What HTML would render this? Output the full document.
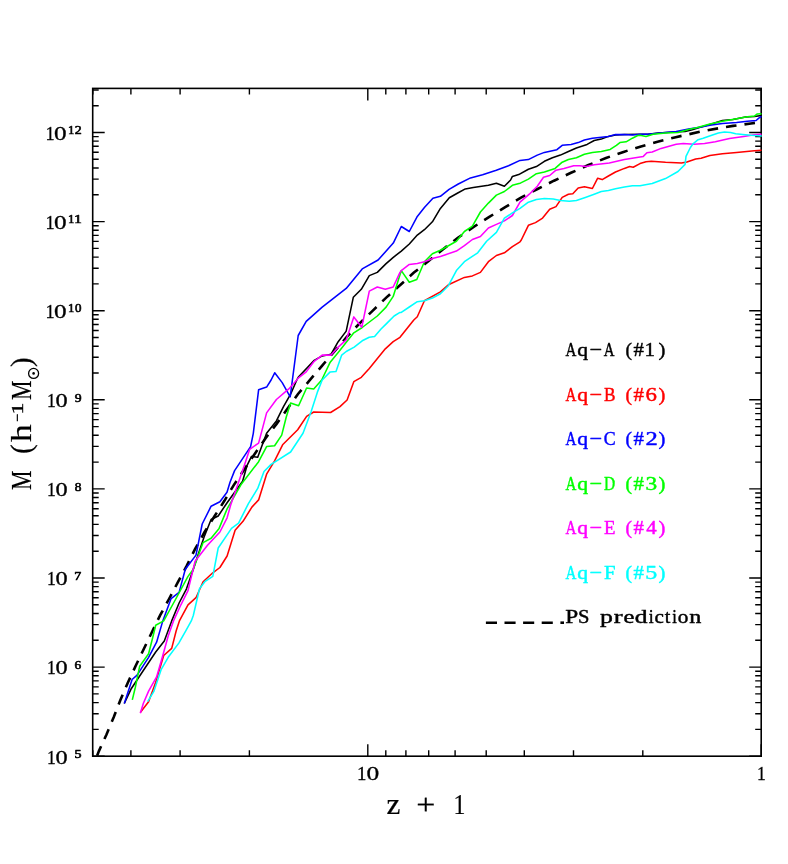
<!DOCTYPE html>
<html><head><meta charset="utf-8"><title>Mass accretion history</title>
<style>html,body{margin:0;padding:0;background:#fff}svg{display:block;will-change:transform}</style></head>
<body>
<svg width="788" height="864" viewBox="0 0 788 864">
<rect width="788" height="864" fill="#fff"/>
<rect x="92.7" y="88.4" width="668.5" height="667.8" fill="none" stroke="#000" stroke-width="1.6"/>
<path d="M92.7 756.2h12 M761.2 756.2h-12 M92.7 729.4h6 M761.2 729.4h-6 M92.7 713.7h6 M761.2 713.7h-6 M92.7 702.6h6 M761.2 702.6h-6 M92.7 693.9h6 M761.2 693.9h-6 M92.7 686.9h6 M761.2 686.9h-6 M92.7 680.9h6 M761.2 680.9h-6 M92.7 675.7h6 M761.2 675.7h-6 M92.7 671.2h6 M761.2 671.2h-6 M92.7 667.1h12 M761.2 667.1h-12 M92.7 640.3h6 M761.2 640.3h-6 M92.7 624.6h6 M761.2 624.6h-6 M92.7 613.5h6 M761.2 613.5h-6 M92.7 604.8h6 M761.2 604.8h-6 M92.7 597.8h6 M761.2 597.8h-6 M92.7 591.8h6 M761.2 591.8h-6 M92.7 586.6h6 M761.2 586.6h-6 M92.7 582.1h6 M761.2 582.1h-6 M92.7 578.0h12 M761.2 578.0h-12 M92.7 551.2h6 M761.2 551.2h-6 M92.7 535.5h6 M761.2 535.5h-6 M92.7 524.4h6 M761.2 524.4h-6 M92.7 515.7h6 M761.2 515.7h-6 M92.7 508.7h6 M761.2 508.7h-6 M92.7 502.7h6 M761.2 502.7h-6 M92.7 497.5h6 M761.2 497.5h-6 M92.7 493.0h6 M761.2 493.0h-6 M92.7 488.9h12 M761.2 488.9h-12 M92.7 462.1h6 M761.2 462.1h-6 M92.7 446.4h6 M761.2 446.4h-6 M92.7 435.3h6 M761.2 435.3h-6 M92.7 426.6h6 M761.2 426.6h-6 M92.7 419.6h6 M761.2 419.6h-6 M92.7 413.6h6 M761.2 413.6h-6 M92.7 408.4h6 M761.2 408.4h-6 M92.7 403.9h6 M761.2 403.9h-6 M92.7 399.8h12 M761.2 399.8h-12 M92.7 373.0h6 M761.2 373.0h-6 M92.7 357.3h6 M761.2 357.3h-6 M92.7 346.2h6 M761.2 346.2h-6 M92.7 337.5h6 M761.2 337.5h-6 M92.7 330.5h6 M761.2 330.5h-6 M92.7 324.5h6 M761.2 324.5h-6 M92.7 319.3h6 M761.2 319.3h-6 M92.7 314.8h6 M761.2 314.8h-6 M92.7 310.7h12 M761.2 310.7h-12 M92.7 283.9h6 M761.2 283.9h-6 M92.7 268.2h6 M761.2 268.2h-6 M92.7 257.1h6 M761.2 257.1h-6 M92.7 248.4h6 M761.2 248.4h-6 M92.7 241.4h6 M761.2 241.4h-6 M92.7 235.4h6 M761.2 235.4h-6 M92.7 230.2h6 M761.2 230.2h-6 M92.7 225.7h6 M761.2 225.7h-6 M92.7 221.6h12 M761.2 221.6h-12 M92.7 194.8h6 M761.2 194.8h-6 M92.7 179.1h6 M761.2 179.1h-6 M92.7 168.0h6 M761.2 168.0h-6 M92.7 159.3h6 M761.2 159.3h-6 M92.7 152.3h6 M761.2 152.3h-6 M92.7 146.3h6 M761.2 146.3h-6 M92.7 141.1h6 M761.2 141.1h-6 M92.7 136.6h6 M761.2 136.6h-6 M92.7 132.5h12 M761.2 132.5h-12 M92.7 105.7h6 M761.2 105.7h-6 M92.7 90.0h6 M761.2 90.0h-6 M761.2 756.2v-12 M761.2 88.4v12 M642.8 756.2v-6 M642.8 88.4v6 M573.5 756.2v-6 M573.5 88.4v6 M524.3 756.2v-6 M524.3 88.4v6 M486.2 756.2v-6 M486.2 88.4v6 M455.1 756.2v-6 M455.1 88.4v6 M428.7 756.2v-6 M428.7 88.4v6 M405.9 756.2v-6 M405.9 88.4v6 M385.8 756.2v-6 M385.8 88.4v6 M367.8 756.2v-12 M367.8 88.4v12 M249.4 756.2v-6 M249.4 88.4v6 M180.1 756.2v-6 M180.1 88.4v6 M130.9 756.2v-6 M130.9 88.4v6 M92.8 756.2v-6 M92.8 88.4v6" stroke="#000" stroke-width="1.4" fill="none"/>
<polyline fill="none" stroke="#000" stroke-width="2.6" stroke-dasharray="10.6 8.05" stroke-dashoffset="0.3" points="97.1,755.8 98.9,751.1 106.4,734.7 113.7,717.3 120.3,700.2 127.8,682.8 135.7,665.8 148.0,640.2 160.2,615.2 169.0,599.0 177.9,582.2 186.8,565.7 195.0,549.2 204.6,532.0 214.8,515.8 224.4,500.8 233.6,485.4 244.4,469.2 255.2,453.2 265.4,438.4 276.4,424.1 298.0,394.0 310.2,379.7 322.4,365.3 346.6,337.2 359.6,323.3 372.8,310.6 386.5,297.4 413.9,272.6 428.6,260.9 443.1,249.2 457.9,237.8 473.3,227.1 489.3,216.9 505.2,207.1 521.0,197.6 537.5,189.0 554.0,180.7 571.0,172.8 588.5,165.0 606.0,158.0 623.5,151.9 641.0,146.4 658.5,141.4 675.7,137.2 701.0,131.5 719.0,128.2 733.0,125.9 750.9,123.5 757.0,122.6"/>
<polyline fill="none" stroke="#000" stroke-width="1.55" stroke-linejoin="round" points="124.3,703.5 130.9,689.3 141.5,673.3 155.7,652.0 164.3,641.0 171.7,620.9 179.1,603.0 186.5,588.8 193.3,569.3 198.6,553.3 204.0,537.3 211.1,519.5 218.2,516.0 227.1,502.7 242.6,481.3 247.1,465.3 251.5,456.4 257.7,457.3 261.3,447.5 266.6,433.3 276.4,420.9 283.5,406.6 290.6,394.2 296.8,380.0 298.2,377.3 314.2,360.4 322.2,355.9 331.1,354.2 338.2,341.7 346.2,331.1 353.3,297.3 361.3,289.3 369.3,275.6 377.3,272.4 386.1,263.6 393.3,257.3 401.3,251.1 409.3,244.0 417.3,235.1 424.4,229.7 432.4,221.8 440.4,208.4 449.3,197.8 457.3,193.3 465.3,188.9 473.3,187.5 488.4,185.3 496.4,183.2 504.4,186.2 510.6,180.0 512.4,176.4 518.7,174.6 528.4,169.3 536.4,166.6 544.4,161.3 552.4,157.7 560.4,155.1 568.4,151.5 576.4,148.0 587.1,144.4 594.2,140.5 601.3,139.1 608.4,136.4 615.5,135.0 624.4,134.6 640.0,134.3 647.8,134.2 658.4,132.9 674.4,132.1 685.1,131.5 692.2,129.7 701.1,127.1 709.9,124.4 722.4,120.5 733.0,119.4 745.5,117.0 754.4,116.4 761.5,115.5"/>
<polyline fill="none" stroke="#f00" stroke-width="1.55" stroke-linejoin="round" points="140.3,712.4 148.6,701.7 155.7,682.2 163.7,655.5 171.7,648.4 176.2,630.7 179.4,620.9 188.0,604.8 196.0,597.7 203.1,581.7 212.8,572.8 219.9,567.5 227.1,556.0 235.1,530.2 243.0,521.3 251.9,507.1 258.6,499.9 266.6,474.2 274.6,460.8 282.6,444.8 297.7,429.7 306.6,416.4 313.7,412.0 330.6,412.5 340.0,406.6 347.1,400.0 353.8,381.7 361.3,377.3 369.3,368.4 385.3,348.8 393.2,341.7 400.0,337.3 413.8,320.0 417.3,316.8 424.4,300.8 440.4,291.9 448.4,284.8 464.4,277.4 472.4,275.9 480.4,272.4 488.4,261.7 496.4,255.5 504.4,252.8 512.4,246.6 520.0,241.8 521.3,240.0 528.4,225.3 535.5,222.6 542.6,218.1 549.7,209.3 556.0,206.6 562.2,197.4 568.4,194.2 572.8,193.8 578.2,187.9 584.4,186.7 592.4,188.5 597.7,178.2 602.2,179.6 608.4,176.0 615.5,172.0 624.4,168.4 629.7,166.6 633.2,167.2 640.0,163.6 646.0,161.7 651.3,161.2 665.5,162.3 681.5,163.0 686.9,162.1 695.7,159.1 701.1,158.2 709.9,155.5 722.4,153.7 736.6,152.5 754.4,150.7 761.5,150.2"/>
<polyline fill="none" stroke="#00f" stroke-width="1.55" stroke-linejoin="round" points="124.3,703.5 132.1,679.5 137.1,675.1 148.6,657.3 156.6,642.2 162.8,620.9 171.1,598.6 179.1,592.4 185.3,569.3 196.0,555.1 202.2,524.0 211.1,506.2 219.9,501.8 227.0,492.2 230.1,482.0 234.6,470.6 250.6,446.6 253.3,433.3 258.6,389.8 266.6,387.1 271.1,380.0 274.7,372.8 282.2,382.6 290.2,396.8 298.2,335.5 306.2,321.3 322.2,307.1 338.2,294.6 346.2,288.4 362.2,268.9 378.1,260.0 393.3,243.1 401.3,226.5 409.3,231.5 417.3,216.4 424.4,207.5 432.9,198.3 440.4,196.3 449.1,189.3 458.3,184.0 470.5,177.9 482.6,174.8 496.3,170.3 508.5,165.7 520.0,160.4 528.3,159.6 537.3,155.1 544.4,152.4 556.9,149.7 562.2,145.3 571.1,144.4 578.2,142.6 584.4,140.0 592.4,138.2 608.4,136.4 615.5,134.6 624.4,134.6 632.4,135.0 640.0,134.3 647.8,134.2 665.5,132.4 676.2,131.5 688.6,128.9 701.1,127.1 709.9,125.3 722.4,123.5 736.6,122.6 747.3,121.2 756.1,120.5 758.8,118.2 761.5,116.4"/>
<polyline fill="none" stroke="#0f0" stroke-width="1.55" stroke-linejoin="round" points="132.3,699.9 135.3,687.5 139.7,666.2 148.6,653.8 153.1,636.0 155.7,625.3 163.7,620.9 175.5,599.5 188.0,576.4 193.3,569.3 203.1,542.6 211.1,538.2 219.1,528.4 227.1,508.9 240.9,484.8 258.6,461.7 266.6,446.6 274.6,445.7 281.7,435.1 286.2,417.3 290.6,403.1 298.6,405.8 306.6,388.0 313.7,388.9 321.7,380.0 330.2,362.2 338.2,352.4 353.8,332.8 362.2,327.5 377.3,316.0 386.1,307.1 393.2,296.4 401.3,270.6 409.3,282.2 416.8,279.5 424.4,261.7 432.4,253.7 440.4,250.2 448.4,245.7 456.4,241.3 464.4,231.5 472.4,226.2 480.4,212.0 488.4,203.1 496.4,195.1 504.4,191.5 512.4,185.3 520.0,183.2 521.3,182.6 528.4,179.1 536.4,173.7 544.4,172.0 555.1,168.4 562.2,162.2 568.4,159.5 576.4,157.7 584.4,154.2 592.4,152.4 601.3,151.5 610.2,149.4 616.4,145.3 619.9,142.6 626.1,141.8 632.4,138.2 637.7,135.5 640.0,135.2 646.0,136.5 653.1,134.2 665.5,132.9 678.0,132.4 688.6,129.4 697.5,127.6 709.9,124.1 722.4,121.2 736.6,118.7 747.3,116.8 754.4,116.1 757.0,114.1 761.5,113.8"/>
<polyline fill="none" stroke="#f0f" stroke-width="1.55" stroke-linejoin="round" points="140.3,713.3 143.3,703.5 148.6,691.1 156.6,676.9 162.8,655.5 168.2,636.0 173.5,620.9 180.9,604.8 188.0,590.6 195.1,561.3 207.5,545.3 219.9,532.0 227.1,517.8 230.6,505.3 244.4,465.3 249.7,449.3 258.6,443.1 266.6,412.9 276.4,399.5 288.8,388.9 296.8,380.0 298.2,378.1 306.2,371.9 314.2,361.3 322.2,355.1 331.1,355.1 338.2,347.1 346.2,339.9 353.8,316.9 361.8,327.2 369.3,291.1 377.3,287.0 385.3,289.3 393.2,287.0 400.0,272.4 401.3,270.6 409.3,264.4 417.3,263.5 424.4,261.7 433.3,258.2 440.4,256.4 456.4,251.1 464.4,245.7 472.4,239.5 480.4,236.5 488.4,228.0 496.4,224.4 504.4,220.9 512.4,215.5 520.0,202.2 529.3,194.2 537.3,186.2 543.5,177.3 549.7,175.5 556.0,170.2 564.0,168.4 573.7,165.7 579.9,165.7 586.2,166.6 594.2,164.8 609.3,163.1 624.4,159.5 640.0,156.9 643.3,156.4 646.9,152.8 652.2,152.0 661.1,148.4 676.2,144.3 683.3,143.6 694.0,144.3 704.6,143.6 715.3,141.8 729.5,138.6 743.7,136.5 754.4,134.7 761.5,134.2"/>
<polyline fill="none" stroke="#0ff" stroke-width="1.55" stroke-linejoin="round" points="147.7,701.7 154.0,691.1 161.1,669.7 168.2,657.3 178.8,643.1 185.9,630.7 191.3,620.9 193.3,615.5 199.5,588.8 204.8,581.7 212.8,576.4 218.2,548.0 231.5,528.4 238.6,523.1 248.4,503.6 257.7,488.4 264.0,471.5 271.1,464.4 290.6,452.0 303.0,433.3 311.0,412.0 317.3,392.4 322.2,380.0 330.2,371.9 336.0,371.6 341.7,355.1 346.2,351.5 354.2,347.1 362.2,340.8 369.3,337.3 374.6,336.4 380.8,329.3 387.0,323.1 394.1,316.0 400.0,312.4 401.3,312.4 409.3,307.0 417.3,301.7 424.4,300.8 432.4,298.1 440.4,293.7 448.4,285.7 456.4,270.6 464.4,261.7 477.7,252.8 486.6,241.3 496.4,232.4 504.4,218.2 512.4,212.9 520.0,208.4 528.4,202.2 536.4,199.5 544.4,198.6 553.3,199.1 560.4,200.4 569.3,201.3 576.4,200.4 585.3,197.4 594.2,194.2 601.3,191.5 608.4,190.6 615.5,188.8 624.4,187.1 632.4,185.8 640.0,185.8 652.2,183.6 665.5,178.6 678.0,171.5 685.1,164.4 686.0,156.4 690.4,147.5 693.0,143.8 698.1,139.7 703.2,138.2 710.3,135.7 718.4,133.1 724.5,132.1 730.6,132.4 735.7,133.7 742.8,134.4 750.9,135.2 761.8,135.9"/>
<path d="M485.9 622.7H556" stroke="#000" stroke-width="2.6" stroke-dasharray="11.1 7.5" fill="none"/>
<rect x="560.4" y="621.4" width="3.6" height="2.6" fill="#000"/>
<g font-family="'Liberation Serif', serif" stroke-linejoin="round">
<g font-size="19.8" fill="#000" stroke="#000" stroke-width="0.30"><text transform="matrix(0.884 0 0 1 47.05 763.5)">1</text><text transform="matrix(1.228 0 0 1 55.42 763.5)">0</text></g>
<g font-size="12.3" fill="#000" stroke="#000" stroke-width="0.60"><text transform="matrix(1.142 0 0 1 74.40 757.9)">5</text></g>
<g font-size="19.8" fill="#000" stroke="#000" stroke-width="0.30"><text transform="matrix(0.884 0 0 1 47.05 674.4)">1</text><text transform="matrix(1.228 0 0 1 55.42 674.4)">0</text></g>
<g font-size="12.3" fill="#000" stroke="#000" stroke-width="0.60"><text transform="matrix(1.090 0 0 1 74.56 668.8)">6</text></g>
<g font-size="19.8" fill="#000" stroke="#000" stroke-width="0.30"><text transform="matrix(0.884 0 0 1 47.05 585.3)">1</text><text transform="matrix(1.228 0 0 1 55.42 585.3)">0</text></g>
<g font-size="12.3" fill="#000" stroke="#000" stroke-width="0.60"><text transform="matrix(1.142 0 0 1 74.26 579.7)">7</text></g>
<g font-size="19.8" fill="#000" stroke="#000" stroke-width="0.30"><text transform="matrix(0.884 0 0 1 47.05 496.2)">1</text><text transform="matrix(1.228 0 0 1 55.42 496.2)">0</text></g>
<g font-size="12.3" fill="#000" stroke="#000" stroke-width="0.60"><text transform="matrix(1.090 0 0 1 74.70 490.6)">8</text></g>
<g font-size="19.8" fill="#000" stroke="#000" stroke-width="0.30"><text transform="matrix(0.884 0 0 1 47.05 407.1)">1</text><text transform="matrix(1.228 0 0 1 55.42 407.1)">0</text></g>
<g font-size="12.3" fill="#000" stroke="#000" stroke-width="0.60"><text transform="matrix(1.116 0 0 1 74.69 401.5)">9</text></g>
<g font-size="19.8" fill="#000" stroke="#000" stroke-width="0.30"><text transform="matrix(0.926 0 0 1 45.58 318.0)">1</text><text transform="matrix(1.274 0 0 1 53.99 318.0)">0</text></g>
<g font-size="12.3" fill="#000" stroke="#000" stroke-width="0.60"><text transform="matrix(1.039 0 0 1 67.88 312.4)">1</text><text transform="matrix(1.053 0 0 1 74.91 312.4)">0</text></g>
<g font-size="19.8" fill="#000" stroke="#000" stroke-width="0.30"><text transform="matrix(0.926 0 0 1 45.58 228.9)">1</text><text transform="matrix(1.274 0 0 1 53.99 228.9)">0</text></g>
<g font-size="12.3" fill="#000" stroke="#000" stroke-width="0.60"><text transform="matrix(1.039 0 0 1 67.88 223.3)">1</text><text transform="matrix(1.287 0 0 1 74.03 223.3)">1</text></g>
<g font-size="19.8" fill="#000" stroke="#000" stroke-width="0.30"><text transform="matrix(0.926 0 0 1 45.58 139.8)">1</text><text transform="matrix(1.274 0 0 1 53.99 139.8)">0</text></g>
<g font-size="12.3" fill="#000" stroke="#000" stroke-width="0.60"><text transform="matrix(1.039 0 0 1 67.88 134.2)">1</text><text transform="matrix(1.130 0 0 1 74.74 134.2)">2</text></g>
<g font-size="19.8" fill="#000" stroke="#000" stroke-width="0.30"><text transform="matrix(0.954 0 0 1 357.04 780.4)">1</text><text transform="matrix(1.286 0 0 1 366.59 780.4)">0</text></g>
<g font-size="19.8" fill="#000" stroke="#000" stroke-width="0.30"><text transform="matrix(0.884 0 0 1 757.05 780.4)">1</text></g>
<g font-size="28.8" fill="#000" stroke="#000" stroke-width="0.25"><text transform="matrix(1.081 0 0 1 386.60 813.8)">z</text><text transform="matrix(1.175 0 0 1 416.37 813.8)">+</text><text transform="matrix(0.825 0 0 1 453.62 813.8)">1</text></g>
<g font-size="19.8" fill="#000" stroke="#000" stroke-width="0.45"><text transform="matrix(0.761 0 0 1 565.52 356.3)">A</text><text transform="matrix(1.092 0 0 1 577.18 356.3)">q</text><text transform="matrix(1.131 0 0 1 589.53 356.3)">&#8722;</text><text transform="matrix(0.750 0 0 1 603.85 356.3)">A</text><text transform="matrix(0.982 0 0 1 625.45 356.3)">(</text><text transform="matrix(1.047 0 0 1 633.62 356.3)">#</text><text transform="matrix(1.059 0 0 1 644.55 356.3)">1</text><text transform="matrix(1.039 0 0 1 658.41 356.3)">)</text></g>
<g font-size="19.8" fill="#f00" stroke="#f00" stroke-width="0.45"><text transform="matrix(0.761 0 0 1 565.52 400.8)">A</text><text transform="matrix(1.092 0 0 1 577.18 400.8)">q</text><text transform="matrix(1.131 0 0 1 589.53 400.8)">&#8722;</text><text transform="matrix(0.871 0 0 1 604.08 400.8)">B</text><text transform="matrix(0.982 0 0 1 625.45 400.8)">(</text><text transform="matrix(1.047 0 0 1 633.62 400.8)">#</text><text transform="matrix(1.154 0 0 1 645.61 400.8)">6</text><text transform="matrix(1.039 0 0 1 658.41 400.8)">)</text></g>
<g font-size="19.8" fill="#00f" stroke="#00f" stroke-width="0.45"><text transform="matrix(0.761 0 0 1 565.52 445.3)">A</text><text transform="matrix(1.092 0 0 1 577.18 445.3)">q</text><text transform="matrix(1.131 0 0 1 589.53 445.3)">&#8722;</text><text transform="matrix(0.901 0 0 1 603.71 445.3)">C</text><text transform="matrix(0.982 0 0 1 625.45 445.3)">(</text><text transform="matrix(1.047 0 0 1 633.62 445.3)">#</text><text transform="matrix(1.238 0 0 1 645.54 445.3)">2</text><text transform="matrix(1.039 0 0 1 658.41 445.3)">)</text></g>
<g font-size="19.8" fill="#0f0" stroke="#0f0" stroke-width="0.45"><text transform="matrix(0.761 0 0 1 565.52 489.8)">A</text><text transform="matrix(1.092 0 0 1 577.18 489.8)">q</text><text transform="matrix(1.131 0 0 1 589.53 489.8)">&#8722;</text><text transform="matrix(0.780 0 0 1 604.12 489.8)">D</text><text transform="matrix(0.982 0 0 1 625.45 489.8)">(</text><text transform="matrix(1.047 0 0 1 633.62 489.8)">#</text><text transform="matrix(1.180 0 0 1 645.59 489.8)">3</text><text transform="matrix(1.039 0 0 1 658.41 489.8)">)</text></g>
<g font-size="19.8" fill="#f0f" stroke="#f0f" stroke-width="0.45"><text transform="matrix(0.761 0 0 1 565.52 534.3)">A</text><text transform="matrix(1.092 0 0 1 577.18 534.3)">q</text><text transform="matrix(1.131 0 0 1 589.53 534.3)">&#8722;</text><text transform="matrix(0.950 0 0 1 604.05 534.3)">E</text><text transform="matrix(0.982 0 0 1 625.45 534.3)">(</text><text transform="matrix(1.047 0 0 1 633.62 534.3)">#</text><text transform="matrix(1.057 0 0 1 646.32 534.3)">4</text><text transform="matrix(1.039 0 0 1 658.41 534.3)">)</text></g>
<g font-size="19.8" fill="#0ff" stroke="#0ff" stroke-width="0.45"><text transform="matrix(0.761 0 0 1 565.52 578.8)">A</text><text transform="matrix(1.092 0 0 1 577.18 578.8)">q</text><text transform="matrix(1.131 0 0 1 589.53 578.8)">&#8722;</text><text transform="matrix(1.045 0 0 1 604.01 578.8)">F</text><text transform="matrix(0.982 0 0 1 625.45 578.8)">(</text><text transform="matrix(1.047 0 0 1 633.62 578.8)">#</text><text transform="matrix(1.209 0 0 1 645.33 578.8)">5</text><text transform="matrix(1.039 0 0 1 658.41 578.8)">)</text></g>
<g font-size="19.8" fill="#000" stroke="#000" stroke-width="0.45"><text transform="matrix(1.177 0 0 1 565.36 623.1)">P</text><text transform="matrix(1.039 0 0 1 577.99 623.1)">S</text><text transform="matrix(1.301 0 0 1 599.97 623.1)">p</text><text transform="matrix(1.350 0 0 1 613.77 623.1)">r</text><text transform="matrix(1.243 0 0 1 623.49 623.1)">e</text><text transform="matrix(1.290 0 0 1 634.66 623.1)">d</text><text transform="matrix(0.894 0 0 1 648.67 623.1)">i</text><text transform="matrix(1.068 0 0 1 654.49 623.1)">c</text><text transform="matrix(1.019 0 0 1 664.83 623.1)">t</text><text transform="matrix(0.831 0 0 1 672.30 623.1)">i</text><text transform="matrix(1.073 0 0 1 677.79 623.1)">o</text><text transform="matrix(1.220 0 0 1 689.14 623.1)">n</text></g>
<g transform="translate(31,490) rotate(-90)">
<text x="0" y="0.0" font-size="28.8" fill="#000" stroke="#000" stroke-width="0.20" textLength="19.5" lengthAdjust="spacingAndGlyphs" >M</text>
<text x="36" y="0.0" font-size="28.8" fill="#000" stroke="#000" stroke-width="0.20" >(</text>
<text x="48" y="0.0" font-size="28.8" fill="#000" stroke="#000" stroke-width="0.20" textLength="17.7" lengthAdjust="spacingAndGlyphs" >h</text>
<text x="68.4" y="-9.0" font-size="14.0" fill="#000" stroke="#000" stroke-width="0.50" >&#8722;</text>
<text x="75.6" y="-8.3" font-size="15.8" fill="#000" stroke="#000" stroke-width="0.40" textLength="11.9" lengthAdjust="spacingAndGlyphs" >1</text>
<text x="90" y="0.0" font-size="28.8" fill="#000" stroke="#000" stroke-width="0.20" textLength="19.5" lengthAdjust="spacingAndGlyphs" >M</text>
<circle cx="116.6" cy="2.6" r="5" fill="none" stroke="#000" stroke-width="1.3"/><circle cx="116.6" cy="2.6" r="1.3" fill="#000"/>
<text x="123" y="0.0" font-size="28.8" fill="#000" stroke="#000" stroke-width="0.20" >)</text>
</g>
</g>
</svg>
</body></html>
